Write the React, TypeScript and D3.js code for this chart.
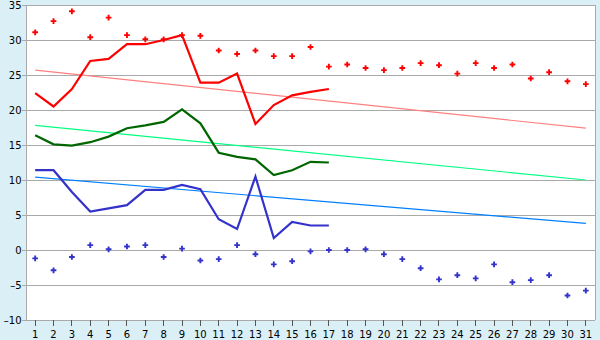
import React from "react";
import * as d3 from "d3";

const days = d3.range(1, 32).map(String);
const maxPoints = [31.1, 32.7, 34.1, 30.4, 33.2, 30.7, 30.1, 30.1, 30.7, 30.6, 28.5, 28.0, 28.5, 27.7, 27.7, 29.0, 26.2, 26.5, 26.0, 25.7, 26.0, 26.7, 26.4, 25.2, 26.7, 26.0, 26.5, 24.5, 25.4, 24.1, 23.7];
const minPoints = [-1.2, -2.9, -1.0, 0.7, 0.1, 0.5, 0.7, -1.0, 0.2, -1.5, -1.3, 0.7, -0.6, -2.05, -1.6, -0.2, 0.0, 0.0, 0.1, -0.6, -1.3, -2.6, -4.2, -3.6, -4.05, -2.05, -4.6, -4.3, -3.6, -6.5, -5.8];
const maxLine = [22.4, 20.5, 23.0, 27.0, 27.3, 29.4, 29.4, 30.0, 30.7, 23.9, 23.9, 25.2, 18.0, 20.7, 22.1, 22.6, 23.0];
const meanLine = [16.4, 15.1, 14.9, 15.4, 16.2, 17.4, 17.8, 18.3, 20.1, 18.1, 13.9, 13.3, 12.95, 10.7, 11.4, 12.6, 12.5];
const minLine = [11.4, 11.4, 8.3, 5.5, 5.95, 6.4, 8.6, 8.6, 9.3, 8.7, 4.4, 3.0, 10.5, 1.7, 4.0, 3.5, 3.5];
const trendMax = [25.7, 17.4];
const trendMean = [17.8, 10.0];
const trendMin = [10.4, 3.8];
const yTicks = [-10, -5, 0, 5, 10, 15, 20, 25, 30, 35];

const W = 600, H = 340;
const L = 26, R = 595, T = 5, B = 320;

export default function App() {
  const x = d3.scaleBand<string>().domain(days).range([L, R]);
  const y = d3.scaleLinear().domain([-10, 35]).range([B, T]);
  const cx = (i: number) => (x(days[i]) as number) + x.bandwidth() / 2;
  const line = d3.line<number>().x((_, i) => cx(i)).y((d) => y(d));
  const trend = (t: number[]) =>
    d3.line<number>().x((_, i) => cx(i === 0 ? 0 : days.length - 1)).y((d) => y(d))(t) as string;
  const cross = d3.symbol().type(d3.symbolCross).size(18)() as string;
  const font = "DejaVu Sans, Verdana, sans-serif";

  return (
    <svg width={W} height={H} style={{ position: "fixed", left: 0, top: 0 }}>
      <rect x={0} y={0} width={W} height={H} fill="#daeff6" />
      <rect x={L} y={T} width={R - L} height={B - T} fill="#ffffff" />
      {yTicks.map((t) => (
        <g key={t}>
          <line x1={L - 4} x2={R} y1={y(t)} y2={y(t)} stroke="#aaaaaa" strokeWidth={1} shapeRendering="crispEdges" />
          <text x={21.5} y={y(t)} dy="0.36em" textAnchor="end" fontFamily={font} fontSize={10} fill="#000">
            {t < 0 ? "\u2013" + Math.abs(t) : t}
          </text>
        </g>
      ))}
      <line x1={L} x2={L} y1={T} y2={B} stroke="#aaaaaa" shapeRendering="crispEdges" />
      <line x1={R} x2={R} y1={T} y2={B} stroke="#aaaaaa" shapeRendering="crispEdges" />
      {days.map((d, i) => (
        <g key={d}>
          <line x1={cx(i)} x2={cx(i)} y1={B} y2={B + 6} stroke="#555" shapeRendering="crispEdges" />
          <text x={cx(i)} y={334} dy="0.36em" textAnchor="middle" fontFamily={font} fontSize={10} fill="#000">
            {d}
          </text>
        </g>
      ))}
      <path d={trend(trendMax)} fill="none" stroke="#ff8080" strokeWidth={1.2} />
      <path d={trend(trendMean)} fill="none" stroke="#00ff80" strokeWidth={1.2} />
      <path d={trend(trendMin)} fill="none" stroke="#0080ff" strokeWidth={1.2} />
      <path d={line(maxLine) as string} fill="none" stroke="#ff0000" strokeWidth={2.2} />
      <path d={line(meanLine) as string} fill="none" stroke="#006600" strokeWidth={2.2} />
      <path d={line(minLine) as string} fill="none" stroke="#3333cc" strokeWidth={2.2} />
      {maxPoints.map((v, i) => (
        <path key={"a" + i} d={cross} transform={`translate(${cx(i)},${y(v)})`} fill="#ff0000" />
      ))}
      {minPoints.map((v, i) => (
        <path key={"b" + i} d={cross} transform={`translate(${cx(i)},${y(v)})`} fill="#3333cc" />
      ))}
    </svg>
  );
}
